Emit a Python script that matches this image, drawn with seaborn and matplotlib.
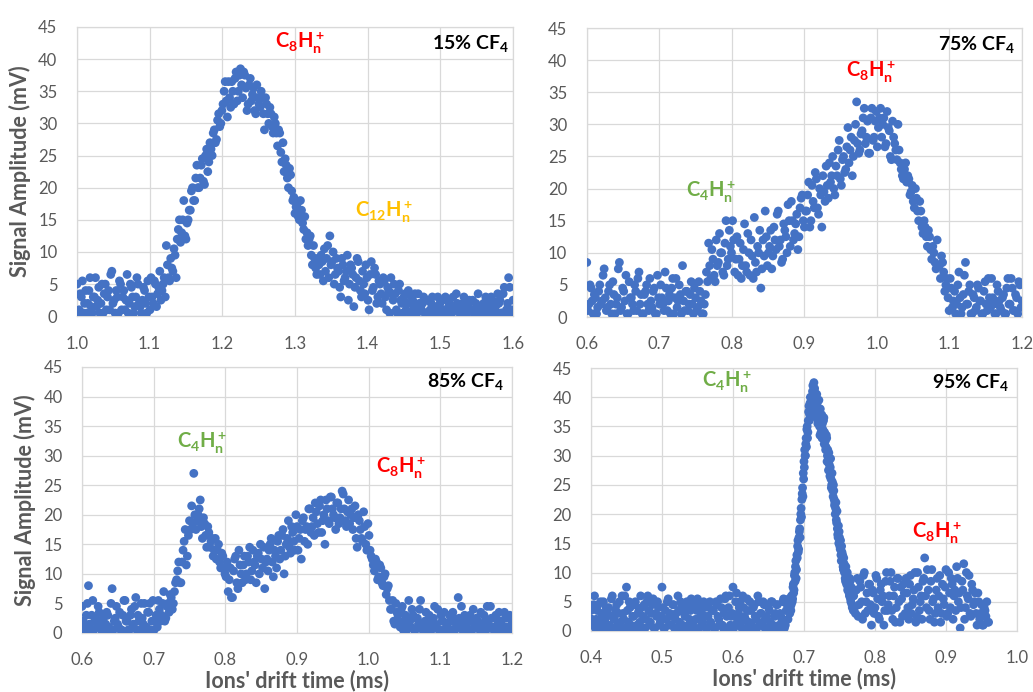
import numpy as np
import pandas as pd
import matplotlib
matplotlib.use("Agg")
import matplotlib.pyplot as plt
from matplotlib.ticker import FormatStrFormatter, MultipleLocator
import seaborn as sns

# ---------------- data ----------------
# Each panel is a sampled trace; two interleaved sample sets (a, b) per panel.
# Panel 1: 15% CF4, drift time 1.000 .. 1.600 ms
x1a_start, x1b_start, x1_step = 1.0, 1.0015, 0.003
y1a = [5, 1, 3, 0.5, 4, 2, 6, 0.5, 3, 1.5,
       4.5, 2, 0.5, 5, 3, 1, 7, 2.5, 4, 0.5,
       5, 3, 1, 6.5, 2, 4.5, 0.5, 3, 5, 1.5,
       2.5, 4, 0.5, 3,
       6, 2, 5, 3.5, 7, 4, 6,
       11, 6, 9, 7, 9.5,
       12, 15, 13, 18, 12,
       15, 16.5, 20, 18, 23.5,
       20, 23.5, 21, 25, 22.5,
       27, 25, 29, 27.5, 31.5,
       30, 33, 36.5, 31, 34,
       36.5, 33, 38, 35, 38.5,
       34, 37.5, 32, 36, 33.5,
       35.5, 31.5, 34, 32.5, 34,
       29, 33, 30, 31.5, 28.5,
       30, 26.5, 28.5, 24, 22.5,
       23.5, 20, 22, 18, 16,
       17.5, 15, 16.5, 13.5, 12,
       11, 12.5, 8, 9, 6.5,
       8, 9.5, 5.5, 7, 11,
       12.5, 8.5, 5, 9, 7,
       3, 8, 6, 9.5, 5,
       7.5, 1.5, 6, 8.5, 4,
       7, 3.5, 6, 1, 8.5,
       4.5, 6.5, 3, 5, 2,
       5.5, 1, 4, 6, 2.5,
       3.5, 0.5, 5, 2, 3,
       1, 4, 0.5, 2.5, 3.5,
       0.5, 2, 1, 3, 0.5,
       2.5, 1, 3, 0.5, 1.5,
       0.5, 2.5, 1, 3, 0.5,
       2, 0.5, 1.5, 3.5, 1,
       0.5, 2, 1, 0.5, 2.5,
       1, 0.5, 2, 3.5, 0.5,
       1.5, 0.5, 2.5, 1, 3,
       0.5, 1.5, 3.5, 2.5, 0.5,
       4.5, 1, 6, 0.5, 2.5]
y1b = [0.5, 3.5, 5.5, 2, 0.5, 4, 1.5, 3, 6, 2.5,
       0.5, 5, 3.5, 1, 4, 6.5, 2, 0.5, 3, 5.5,
       1, 4, 2.5, 0.5, 5, 3, 1.5, 6, 2, 0.5,
       4.5, 2, 5.5, 1,
       3, 5.5, 1.5, 4.5, 2.5, 5, 3,
       8, 5.5, 7.5, 10.5, 6,
       13.5, 11.5, 15, 12.5, 14.5,
       16.5, 19.5, 18, 21.5, 20,
       21.5, 24.5, 20.5, 26, 24,
       26, 28.5, 27, 30.5, 29.5,
       32, 35, 33.5, 36.5, 32.5,
       35, 37, 33.5, 37.5, 36,
       38, 35.5, 33, 37, 34.5,
       32, 36, 33, 35, 31.5,
       34, 31.5, 32.5, 29.5, 31,
       28.5, 29, 25.5, 27, 24.5,
       21.5, 23, 19.5, 18.5, 17,
       15.5, 18, 14.5, 15.5, 13,
       12, 9.5, 11, 7.5, 9,
       6.5, 8.5, 10.5, 9, 6,
       8, 10, 6.5, 7.5, 4.5,
       9, 5.5, 7, 2.5, 8,
       6.5, 4.5, 9, 5.5, 3,
       5, 8, 2.5, 6.5, 4,
       7.5, 2, 5.5, 3.5, 6,
       3, 4.5, 0.5, 3.5, 5,
       1, 4, 2.5, 0.5, 3.5,
       2, 0.5, 3, 1.5, 0.5,
       3.5, 1, 2, 0.5, 2.5,
       0.5, 2, 1, 0.5, 3,
       2, 1, 0.5, 2.5, 1.5,
       0.5, 3, 1, 2, 0.5,
       1.5, 3, 0.5, 2, 1,
       2.5, 0.5, 1.5, 1, 0.5,
       2, 3, 0.5, 1.5, 2.5,
       1, 0.5, 2, 0.5, 3.5,
       0.5, 2, 4.5, 1]

# Panel 2: 75% CF4, drift time 0.600 .. 1.200 ms
x2a_start, x2b_start, x2_step = 0.6, 0.6015, 0.003
y2a = [8.5, 2, 4.5, 0.5, 3, 1.5, 5, 2.5, 7.5, 1,
       4, 2, 5.5, 0.5, 3, 8.5, 1.5, 4, 6.5, 0.5,
       3, 2, 5, 1, 7, 3.5, 0.5, 4, 2, 6,
       1.5, 4.5, 0.5, 3, 5, 2, 7, 1, 3.5, 4.5,
       0.5, 6, 2.5, 3.5, 8, 1, 4, 2, 5.5, 0.5,
       3, 1.5, 4, 0.5, 2,
       7, 11.5, 6, 9, 5.5, 8, 13, 10, 6.5, 15, 9, 11,
       15, 7, 12.5, 9, 6, 10.5, 8, 13, 6.5, 9.5, 15.5, 7, 10, 4.5, 12, 16.5, 8,
       11, 7.5, 14, 10.5, 16.5, 12, 9, 13.5, 10, 15, 18, 12, 14.5, 10.5, 17, 19, 14,
       16.5, 21, 15, 18, 22.5, 17, 20, 14, 19.5, 23.5, 18.5, 21, 25, 19, 22, 27.5, 20.5,
       25, 23, 29.5, 26, 22, 27.5, 33.5, 25.5, 28.5, 31, 27, 30.5, 25.5, 32.5, 28, 32, 29.5,
       32.5, 30, 26.5, 32, 29, 24.5, 28, 26, 30, 24, 22,
       23, 21, 21.5, 19.5, 18, 20, 16.5, 18, 14, 15, 12.5,
       13.5, 10.5, 11, 8.5, 12, 8, 9.5, 7, 5,
       3, 6, 1.5, 4, 2, 7, 0.5, 3.5, 8.5, 2,
       5, 0.5, 3, 1.5, 4.5, 2.5, 0.5, 5.5, 1, 3,
       6, 2, 0.5, 4, 1.5, 3, 0.5, 4.5, 2, 6,
       1, 3.5, 0.5, 5, 2.5]
y2b = [1, 5, 2.5, 3.5, 0.5, 4, 2, 6.5, 3, 1.5,
       5, 0.5, 3.5, 2, 7.5, 1, 4.5, 2.5, 0.5, 5.5,
       3, 1, 4, 6, 2, 0.5, 3.5, 5, 1, 2.5,
       4, 0.5, 6.5, 2, 3, 1, 4.5, 2.5, 0.5, 6,
       3, 1.5, 5, 0.5, 2.5, 4, 1, 3.5, 2, 4.5,
       1, 5.5, 2.5, 0.5, 3.5,
       5.5, 8, 10.5, 6.5, 12, 8.5, 10, 7, 11.5, 8, 13.5, 10,
       12, 9, 6.5, 11.5, 8, 14.5, 7, 10, 12, 6, 8.5, 11, 13.5, 7.5, 9.5, 12.5, 10,
       13.5, 9.5, 12, 16, 11, 8.5, 14.5, 12.5, 17.5, 11, 15, 13, 16, 12.5, 18.5, 15, 16.5,
       19, 14, 20.5, 17, 21.5, 16, 19, 22, 18, 20.5, 24, 22, 20, 23.5, 26, 21.5, 24.5,
       22.5, 26.5, 24, 28, 25, 30, 27, 26, 29, 32.5, 28, 25.5, 31, 27.5, 30.5, 26.5, 31,
       28, 31, 27, 29.5, 25, 30.5, 27, 24.5, 26, 23, 21.5,
       24, 22, 19, 20.5, 17, 18.5, 15, 16.5, 13, 14, 11,
       12.5, 9, 10, 7.5, 8, 6, 8.5, 4, 6,
       1, 4.5, 2.5, 0.5, 5, 3, 1.5, 6.5, 2, 4,
       0.5, 3.5, 1, 5, 2.5, 0.5, 4, 2, 6, 1.5,
       3, 0.5, 5, 2.5, 1, 3.5, 0.5, 6, 2, 4.5,
       1, 3, 5.5, 1.5]

# Panel 3: 85% CF4, drift time 0.600 .. 1.200 ms
x3a_start, x3b_start, x3_step = 0.6, 0.6015, 0.003
y3a = [4.5, 1, 3, 8, 0.5, 5.5, 2, 1, 3.5, 0.5,
       2.5, 1.5, 3, 0.5, 7.5, 2, 4.5, 1, 0.5, 3,
       5.5, 2, 0.5, 4, 1.5, 6, 3, 0.5, 2.5, 5,
       1, 3.5, 0.5, 5.5, 2, 1, 4,
       3, 7, 2.5, 5, 6.5, 4, 7,
       9, 12, 8.5, 14, 17.5, 13, 19,
       21.5, 27, 17.5, 20, 22.5, 16,
       18.5, 14.5, 17, 15.5, 13, 16, 14, 12, 13.5, 11, 9.5,
       7, 11, 6, 12.5, 8.5, 14, 10,
       11.5, 9, 13, 14.5, 10.5, 12, 8.5, 13.5, 15, 11, 7.5, 12.5, 14, 16, 9.5, 13, 15.5,
       12.5, 16.5, 10, 15, 19, 13.5, 17, 14, 18, 16, 12.5, 19.5, 17.5, 15, 21, 18, 16.5,
       20.5, 17, 22.5, 19, 15, 21, 18.5, 23, 20, 17.5, 22, 19.5, 24, 21, 18, 22.5, 20,
       17.5, 21.5, 14.5, 19, 16, 20.5, 15, 18.5, 14, 12.5,
       10.5, 12, 9.5, 11, 8, 10, 7.5,
       5.5, 4, 2, 5, 3, 1, 4.5,
       2, 0.5, 5.5, 1, 3, 0.5, 2.5, 4, 1, 0.5,
       3.5, 1.5, 0.5, 2, 4.5, 1, 0.5, 3, 2, 0.5,
       1.5, 3, 0.5, 2.5, 1, 6, 2, 0.5, 3, 1.5,
       0.5, 2.5, 4, 1, 2, 0.5, 1.5, 3, 0.5, 2,
       4.5, 1, 2.5, 0.5, 3.5, 2, 1, 2.5, 0.5, 3,
       1.5]
y3b = [2, 0.5, 5, 1.5, 3, 0.5, 2.5, 4.5, 1, 2,
       0.5, 3.5, 1, 5, 0.5, 2.5, 1.5, 3.5, 0.5, 5.5,
       2, 0.5, 3, 1, 4.5, 0.5, 2, 5, 1.5, 0.5,
       3.5, 5, 2, 0.5, 3, 5.5, 2,
       5, 2, 4.5, 3.5, 6, 5, 8.5,
       10.5, 8.5, 12, 15.5, 11.5, 16.5, 17.5,
       18.5, 20, 19, 21, 18, 19.5,
       16.5, 18, 14.5, 16, 14, 12.5, 15, 11, 13, 10, 12,
       9, 6, 10.5, 13, 7.5, 11.5, 8.5,
       13, 10, 12, 9, 14, 11.5, 13, 10, 12.5, 14.5, 12, 10.5, 15, 12, 14, 11, 16.5,
       14, 17.5, 13, 16, 14.5, 18, 15.5, 20, 14, 17.5, 19, 15.5, 18, 21, 17, 19.5, 22,
       18.5, 21.5, 17, 20, 22.5, 19, 23, 21, 19.5, 22, 18.5, 21, 23.5, 19, 20.5, 18.5, 21,
       19.5, 16, 20, 17.5, 15.5, 18, 14, 16.5, 13, 11.5,
       12.5, 9, 11.5, 8.5, 9.5, 6.5, 8,
       4, 5.5, 1.5, 3.5, 2, 4, 0.5,
       3, 1, 2, 4, 0.5, 2.5, 1.5, 5.5, 0.5, 2,
       1, 3, 0.5, 2.5, 1.5, 4, 0.5, 2, 3.5, 1,
       0.5, 2, 3.5, 0.5, 1.5, 2.5, 4.5, 1, 0.5, 2,
       3, 0.5, 1.5, 2.5, 1, 3.5, 0.5, 2, 4.5, 1,
       2.5, 0.5, 3, 1.5, 2, 0.5, 3.5, 1, 2.5, 0.5]

# Panel 4: 95% CF4, drift time 0.400 .. 0.960 ms
# baseline 0.400-0.68 (step 0.0025), peak 0.680-0.770 (step 0.001), tail 0.770-0.960 (step 0.0025)
y4_base_a = [3.5, 1, 6, 2, 4.5, 0.5, 3, 5, 1.5, 2.5,
             4, 0.5, 6, 2, 3.5, 1, 5, 0.5, 3, 6,
             7.5, 1.5, 4, 0.5, 2.5, 5, 1, 3.5, 6, 0.5,
             4.5, 2, 6, 1, 3, 5.5, 0.5, 2.5, 4, 1.5,
             7.5, 0.5, 3.5, 5, 1, 2.5, 4.5, 0.5, 3, 6,
             1.5, 4, 0.5, 2.5, 5, 1, 3.5, 0.5, 4.5, 2,
             5.5, 0.5, 3, 1.5, 4, 0.5, 2.5, 5, 1, 3.5,
             0.5, 4.5, 2, 5.5, 1, 3, 6, 0.5, 6, 2.5,
             7.5, 1, 6.5, 3, 5, 0.5, 4, 2, 5.5, 1.5,
             3.5, 0.5, 4.5, 2, 6, 1, 3, 5, 0.5, 2.5,
             4, 1.5, 5, 0.5, 3, 4.5, 1, 2.5, 5, 0.5,
             3.5, 2]
y4_base_b = [2, 4.5, 0.5, 3.5, 1.5, 5, 2.5, 0.5, 4, 3,
             1, 5.5, 2.5, 0.5, 4.5, 3, 1.5, 6, 2, 0.5,
             3.5, 5, 1, 2.5, 4.5, 0.5, 3, 1.5, 4, 2.5,
             0.5, 5, 3.5, 1.5, 4.5, 0.5, 3, 5, 1, 2.5,
             4, 0.5, 2, 5.5, 3, 1, 4.5, 2, 0.5, 3.5,
             5, 1, 3, 0.5, 4, 2, 5.5, 1.5, 0.5, 3.5,
             2, 4.5, 1, 5, 2.5, 0.5, 4, 1.5, 3.5, 0.5,
             5, 2.5, 1, 4, 0.5, 5.5, 2.5, 4, 1, 3,
             0.5, 5, 2, 4, 1.5, 6, 2.5, 0.5, 3.5, 5,
             1, 4, 2.5, 0.5, 5, 3, 1.5, 4.5, 2, 0.5,
             3.5, 5, 1, 2.5, 4.5, 0.5, 3, 2, 5.5, 1,
             4.5, 5.5]
y4_peak_a = [3, 5, 4.5, 6, 5.5, 8, 7, 10, 11, 9,
             13, 14.5, 13.5, 16, 17.5, 19, 21, 22.5, 24.5, 27,
             29, 31, 30, 33, 34.5, 33, 36, 38.5, 37, 40,
             38, 39.5, 41, 40, 42.5, 41.5, 39, 37, 40.5, 38,
             36, 39.5, 35, 38, 34, 37, 35.5, 33.5, 36.5, 34,
             32.5, 31.5, 33, 30, 29, 30.5, 27.5, 28, 26, 25,
             25.5, 23, 24, 21.5, 20, 22, 18.5, 17.5, 16, 15,
             16, 14, 13, 14.5, 12, 11, 12.5, 10, 9, 11,
             8, 10, 7.5, 9, 6, 8.5, 5, 7, 4, 6.5]
y4_peak_b = [4, 3.5, 6, 5, 7.5, 6.5, 9.5, 8.5, 12, 10.5,
             12.5, 15.5, 14, 17, 16, 20, 19.5, 23.5, 23, 26,
             28, 30, 32, 31.5, 35, 34, 37.5, 36, 39, 38.5,
             40, 37, 42, 39, 41, 38.5, 40.5, 36.5, 39, 35.5,
             38, 36.5, 33.5, 36, 35.5, 33, 34.5, 36, 32, 33,
             31, 33.5, 29, 31, 27.5, 28.5, 26.5, 29.5, 24.5, 27,
             24, 25, 22.5, 22, 21, 19, 20.5, 16.5, 18, 17,
             14.5, 15.5, 12, 13.5, 13, 10.5, 11.5, 11, 8.5, 9.5,
             9.5, 7, 8.5, 6.5, 9, 5.5, 7.5, 4.5, 6, 3.5]
y4_tail_a = [6, 3, 9, 4.5, 7.5, 2, 10, 5, 3.5, 8,
             1, 6.5, 4, 9, 2.5, 7, 5, 1, 8.5, 3.5,
             6, 10, 2, 7.5, 4, 9, 1.5, 5.5, 8, 3,
             6.5, 2, 9.5, 4.5, 7, 1.5, 10, 3.5, 6, 8.5,
             12.5, 4, 7, 2, 10.5, 5.5, 3, 9, 6, 1.5,
             8, 4.5, 10.5, 3, 6.5, 9, 2, 7, 11, 5,
             0.5, 8.5, 11.5, 4, 6, 9.5, 2.5, 7, 5, 3,
             6.5, 2, 4.5, 1, 3.5, 5, 1.5]
y4_tail_b = [4, 7, 2.5, 8.5, 5, 9.5, 3, 6.5, 8, 4.5,
             7, 3, 9.5, 5.5, 2, 8, 6, 3.5, 10, 4.5,
             8.5, 3.5, 6, 1.5, 9, 5, 7.5, 2.5, 6.5, 9,
             4, 8, 3, 5.5, 10, 2.5, 7.5, 5, 2, 9,
             6, 10.5, 3.5, 8.5, 5, 1.5, 7, 4, 9.5, 3,
             5.5, 7.5, 2.5, 10, 4, 8, 6, 3.5, 9, 6.5,
             4, 7, 2, 10, 5.5, 3, 8, 4.5, 6.5, 1,
             5, 3, 1, 4, 2.5, 1.5]

panel_titles = ["15% CF$_4$", "75% CF$_4$", "85% CF$_4$", "95% CF$_4$"]
x_limits = [(1.0, 1.6), (0.6, 1.2), (0.6, 1.2), (0.4, 1.0)]
ion_labels = [
    [("C$_8$H$_n^+$", 1.272, 42.5, "#FF0000"), ("C$_{12}$H$_n^+$", 1.382, 16.2, "#FFC000")],
    [("C$_8$H$_n^+$", 0.958, 38.2, "#FF0000"), ("C$_4$H$_n^+$", 0.737, 19.5, "#70AD47")],
    [("C$_4$H$_n^+$", 0.732, 32.1, "#70AD47"), ("C$_8$H$_n^+$", 1.010, 27.9, "#FF0000")],
    [("C$_4$H$_n^+$", 0.556, 42.6, "#70AD47"), ("C$_8$H$_n^+$", 0.852, 16.8, "#FF0000")],
]
title_pos = [1.594, 1.190, 1.189, 0.989]


# ---------------- build x arrays from the sampling grid ----------------
def grid(start, step, n):
    return start + step * np.arange(n)


x1 = np.concatenate([grid(x1a_start, x1_step, len(y1a)), grid(x1b_start, x1_step, len(y1b))])
y1 = y1a + y1b
x2 = np.concatenate([grid(x2a_start, x2_step, len(y2a)), grid(x2b_start, x2_step, len(y2b))])
y2 = y2a + y2b
x3 = np.concatenate([grid(x3a_start, x3_step, len(y3a)), grid(x3b_start, x3_step, len(y3b))])
y3 = y3a + y3b
x4 = np.concatenate([grid(0.4, 0.0025, len(y4_base_a)), grid(0.40125, 0.0025, len(y4_base_b)),
                     grid(0.68, 0.001, len(y4_peak_a)), grid(0.6805, 0.001, len(y4_peak_b)),
                     grid(0.77, 0.0025, len(y4_tail_a)), grid(0.77125, 0.0025, len(y4_tail_b))])
y4 = y4_base_a + y4_base_b + y4_peak_a + y4_peak_b + y4_tail_a + y4_tail_b

frames = [pd.DataFrame({"t": x, "v": y}) for x, y in
          [(x1, y1), (x2, y2), (x3, y3), (x4, y4)]]

# ---------------- style ----------------
sns.set_style("white")
plt.rcParams["font.family"] = ["Lato", "DejaVu Sans"]
plt.rcParams["mathtext.fontset"] = "custom"
plt.rcParams["mathtext.rm"] = "Lato"
plt.rcParams["mathtext.it"] = "Lato:italic"
plt.rcParams["mathtext.bf"] = "Lato:bold"
plt.rcParams["mathtext.default"] = "bf"

BLUE = "#4472C4"
GRID = "#D9D9D9"
TICK = "#595959"

fig = plt.figure(figsize=(10.33, 6.92), dpi=100)
rects = [
    [0.0745, 0.543, 0.4221, 0.418],
    [0.568, 0.5419, 0.4214, 0.4176],
    [0.0794, 0.0853, 0.4162, 0.3844],
    [0.5721, 0.0882, 0.4124, 0.3800],
]

for k, (rect, df) in enumerate(zip(rects, frames)):
    ax = fig.add_axes(rect)
    sns.scatterplot(data=df, x="t", y="v", ax=ax, color=BLUE, s=40,
                    linewidth=0, edgecolor="none", zorder=3)
    ax.set_xlim(*x_limits[k])
    ax.set_ylim(0, 45)
    ax.xaxis.set_major_locator(MultipleLocator(0.1))
    ax.yaxis.set_major_locator(MultipleLocator(5))
    ax.xaxis.set_major_formatter(FormatStrFormatter("%.1f"))
    ax.grid(True, color=GRID, linewidth=0.9, zorder=0)
    ax.set_axisbelow(True)
    for sp in ax.spines.values():
        sp.set_color(GRID)
        sp.set_linewidth(0.9)
    ax.tick_params(axis="both", length=0, labelsize=12, labelcolor=TICK)
    ax.tick_params(axis="y", pad=14)
    ax.tick_params(axis="x", pad=14)
    if k in (0, 2):
        ax.set_ylabel("Signal Amplitude (mV)", fontsize=15.5, fontweight="bold",
                      color=TICK, labelpad=5)
    else:
        ax.set_ylabel("")
    if k in (2, 3):
        ax.set_xlabel("Ions' drift time (ms)", fontsize=15.5, fontweight="bold",
                      color=TICK, labelpad=1)
    else:
        ax.set_xlabel("")
    ax.text(title_pos[k], 42.5, panel_titles[k], ha="right", va="center",
            fontsize=14, fontweight="bold", color="black", zorder=5)
    for txt, tx, ty, col in ion_labels[k]:
        ax.text(tx, ty, txt, ha="left", va="center", fontsize=14.5,
                fontweight="bold", color=col, zorder=5)

fig.savefig("out.png", dpi=100)
